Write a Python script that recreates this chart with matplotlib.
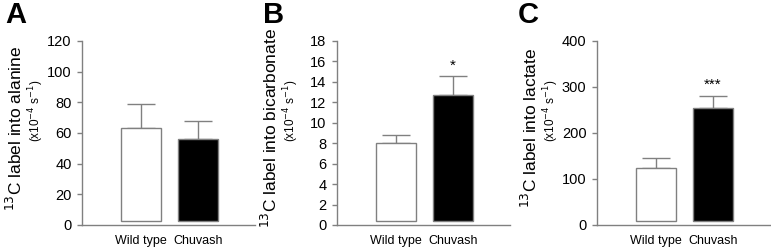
import matplotlib
matplotlib.use("Agg")
from matplotlib import pyplot as plt

plt.rcParams['font.family'] = ['Liberation Sans', 'DejaVu Sans']

groups = ["Wild type", "Chuvash"]
letters = ["A", "B", "C"]
products = ["alanine", "bicarbonate", "lactate"]

alanine = [63, 56]
alanine_err = [16, 12]
bicarbonate = [8.0, 12.7]
bicarbonate_err = [0.8, 1.85]
lactate = [125, 255]
lactate_err = [21, 26]

ymax = [120, 18, 400]
ystep = [20, 2, 100]
stars = ["", "*", "***"]

means = [alanine, bicarbonate, lactate]
errs = [alanine_err, bicarbonate_err, lactate_err]

grey = '#808080'

fig = plt.figure(figsize=(7.71, 2.48), dpi=100)
lefts = [82 / 771, 337 / 771, 597 / 771]

for i in range(3):
    ax = fig.add_axes([lefts[i], 1 - 225 / 248, 173 / 771, 184 / 248])
    base = ymax[i] * 4 / 184
    x = [0, 1]
    heights = [m - base for m in means[i]]
    ax.bar(x, heights, bottom=base, width=0.7, color=['white', 'black'],
           edgecolor=grey, linewidth=1, zorder=2)
    ax.errorbar(x, means[i], yerr=[[0, 0], errs[i]], fmt='none', ecolor=grey,
                elinewidth=1, capsize=10, capthick=1, zorder=1)
    if stars[i]:
        top = means[i][1] + errs[i][1]
        ax.text(1, top + ymax[i] * 0.02, stars[i], ha='center', va='bottom',
                fontsize=11)

    ax.set_xlim(-1.03, 2.0)
    ax.set_ylim(0, ymax[i])
    ticks = [ystep[i] * k for k in range(int(ymax[i] / ystep[i]) + 1)]
    ax.set_yticks(ticks)
    ax.set_yticklabels([str(t) for t in ticks], fontsize=10.5)
    ax.set_xticks(x)
    ax.set_xticklabels(groups, fontsize=9)
    ax.tick_params(axis='x', length=0, pad=7)
    ax.tick_params(axis='y', length=3.5, width=1, color=grey, pad=4)
    for s in ['top', 'right']:
        ax.spines[s].set_visible(False)
    for s in ['left', 'bottom']:
        ax.spines[s].set_color(grey)
        ax.spines[s].set_linewidth(1)

    ax.text(-0.385, 0.527, "$^{13}$C label into " + products[i], rotation=90,
            transform=ax.transAxes, ha='center', va='center', fontsize=12.5)
    ax.text(-0.265, 0.62, "(x10$^{-4}$ s$^{-1}$)", rotation=90,
            transform=ax.transAxes, ha='center', va='center', fontsize=8.5)

letter_x = [5, 263, 518]
for i in range(3):
    fig.text(letter_x[i] / 771, 1 - 15 / 248, letters[i], fontsize=21,
             fontweight='bold', ha='left', va='center')

fig.savefig("out.png", dpi=100)
